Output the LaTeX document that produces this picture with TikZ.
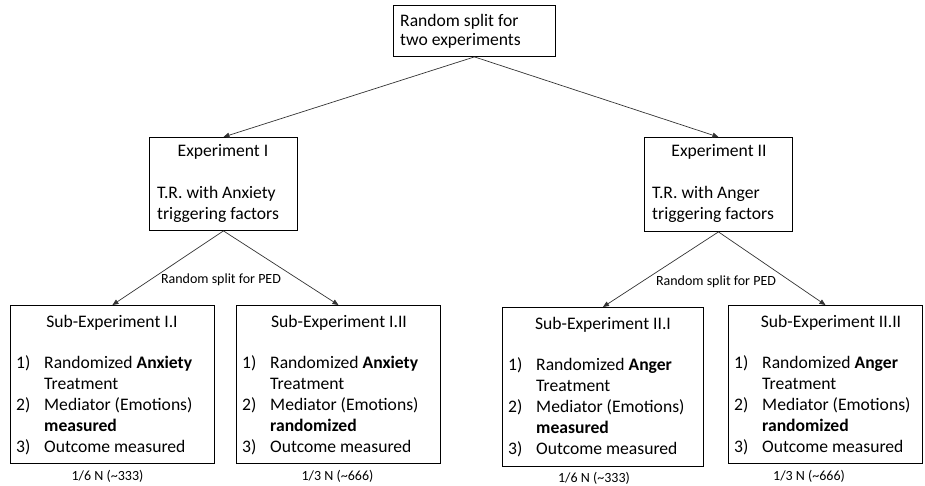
\documentclass[tikz,border=0pt]{standalone}
\usepackage{fontspec}
\setmainfont{Carlito}
\usetikzlibrary{arrows.meta}
\begin{document}
\begin{tikzpicture}[x=1pt,y=-1pt,
  box/.style={draw=black, line width=0.9pt, inner sep=0pt, anchor=north west},
  txt/.style={inner sep=0pt, anchor=base west, font=\fontsize{17.6}{21}\selectfont},
  ctxt/.style={inner sep=0pt, anchor=base, font=\fontsize{17.6}{21}\selectfont},
  small/.style={inner sep=0pt, anchor=base, font=\fontsize{14}{16}\selectfont},
  conn/.style={draw=black!80, line width=0.7pt, -{Triangle[length=6pt,width=5pt]}}]
\useasboundingbox (0,0) rectangle (925,486);
% boxes
\node[box, minimum width=162pt, minimum height=51pt] (top) at (393,5) {};
\node[box, minimum width=148pt, minimum height=93pt] (e1) at (149,137) {};
\node[box, minimum width=148pt, minimum height=94pt] (e2) at (644,137) {};
\node[box, minimum width=204pt, minimum height=158pt] (s11) at (10,305) {};
\node[box, minimum width=204pt, minimum height=158pt] (s12) at (236,305) {};
\node[box, minimum width=201pt, minimum height=159pt] (s21) at (502,307) {};
\node[box, minimum width=194pt, minimum height=158pt] (s22) at (728,305) {};
% top text
\node[txt] (t1) at (400,27) {Random split for};
\node[txt] (t2) at (400,46) {two experiments};
% experiment I
\node[ctxt] (e1a) at (223,157) {Experiment I};
\node[txt] (e1b) at (157,199) {T.R. with Anxiety};
\node[txt] (e1c) at (157,220) {triggering factors};
% experiment II
\node[ctxt] (e2a) at (719,157) {Experiment II};
\node[txt] (e2b) at (652,199) {T.R. with Anger};
\node[txt] (e2c) at (652,220) {triggering factors};
% sub I.I
\node[ctxt] (a0) at (112,327) {Sub-Experiment I.I};
\node[txt] (a1n) at (16,368) {1)};
\node[txt] (a1) at (44,368) {Randomized \textbf{Anxiety}};
\node[txt] (a1b) at (44,389) {Treatment};
\node[txt] (a2n) at (16,410) {2)};
\node[txt] (a2) at (44,410) {Mediator (Emotions)};
\node[txt] (a2b) at (44,431) {\textbf{measured}};
\node[txt] (a3n) at (16,452) {3)};
\node[txt] (a3) at (44,452) {Outcome measured};
% sub I.II
\node[ctxt] (b0) at (339,327) {Sub-Experiment I.II};
\node[txt] (b1n) at (242,368) {1)};
\node[txt] (b1) at (270,368) {Randomized \textbf{Anxiety}};
\node[txt] (b1b) at (270,389) {Treatment};
\node[txt] (b2n) at (242,410) {2)};
\node[txt] (b2) at (270,410) {Mediator (Emotions)};
\node[txt] (b2b) at (270,431) {\textbf{randomized}};
\node[txt] (b3n) at (242,452) {3)};
\node[txt] (b3) at (270,452) {Outcome measured};
% sub II.I
\node[ctxt] (c0) at (603,329) {Sub-Experiment II.I};
\node[txt] (c1n) at (508,370) {1)};
\node[txt] (c1) at (536,370) {Randomized \textbf{Anger}};
\node[txt] (c1b) at (536,391) {Treatment};
\node[txt] (c2n) at (508,412) {2)};
\node[txt] (c2) at (536,412) {Mediator (Emotions)};
\node[txt] (c2b) at (536,433) {\textbf{measured}};
\node[txt] (c3n) at (508,454) {3)};
\node[txt] (c3) at (536,454) {Outcome measured};
% sub II.II
\node[ctxt] (d0) at (831,327) {Sub-Experiment II.II};
\node[txt] (d1n) at (734,368) {1)};
\node[txt] (d1) at (762,368) {Randomized \textbf{Anger}};
\node[txt] (d1b) at (762,389) {Treatment};
\node[txt] (d2n) at (734,410) {2)};
\node[txt] (d2) at (762,410) {Mediator (Emotions)};
\node[txt] (d2b) at (762,431) {\textbf{randomized}};
\node[txt] (d3n) at (734,452) {3)};
\node[txt] (d3) at (762,452) {Outcome measured};
% split labels
\node[small] (p1) at (221,283) {Random split for PED};
\node[small] (p2) at (716,285) {Random split for PED};
% sample sizes
\node[small] (n1) at (107.5,480) {1/6 N (\textasciitilde333)};
\node[small] (n2) at (337.5,480) {1/3 N (\textasciitilde666)};
\node[small] (n3) at (594,482) {1/6 N (\textasciitilde333)};
\node[small] (n4) at (809,480) {1/3 N (\textasciitilde666)};
% connectors
\draw[conn] (top.south) -- (e1.north);
\draw[conn] (top.south) -- (e2.north);
\draw[conn] (e1.south) -- (s11.north);
\draw[conn] (e1.south) -- (s12.north);
\draw[conn] (e2.south) -- (s21.north);
\draw[conn] (e2.south) -- (s22.north);
\end{tikzpicture}
\end{document}
